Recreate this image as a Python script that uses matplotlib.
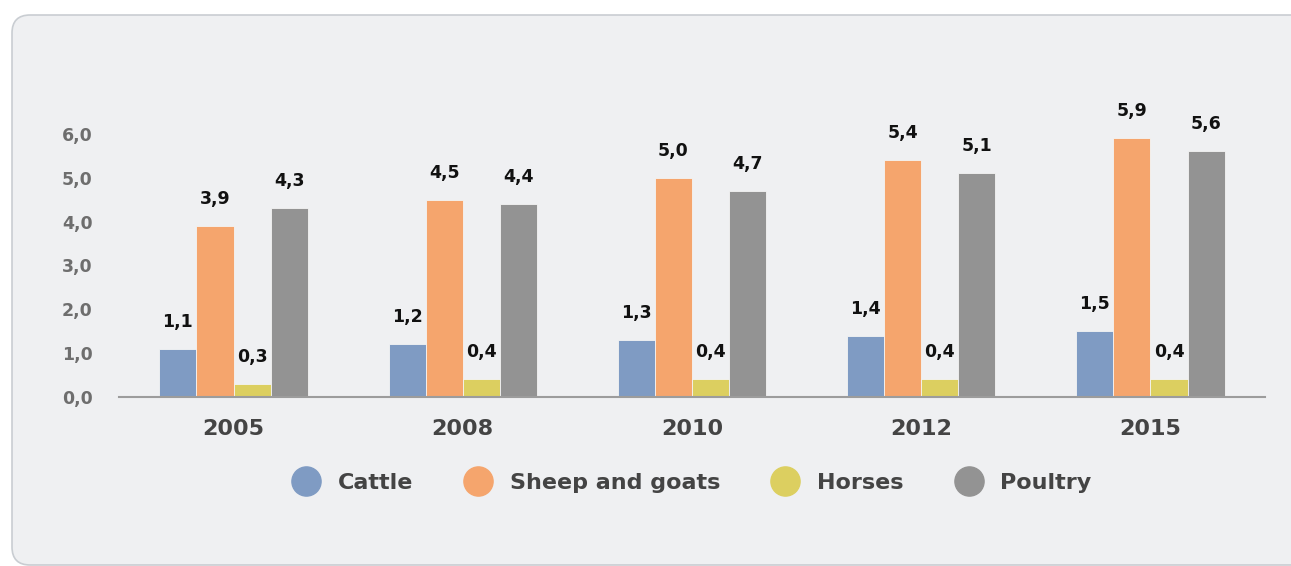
import matplotlib
matplotlib.use("Agg")
import matplotlib.pyplot as plt
from matplotlib.patches import FancyBboxPatch
from matplotlib.lines import Line2D
import numpy as np

years = ["2005", "2008", "2010", "2012", "2015"]
series = ["Cattle", "Sheep and goats", "Horses", "Poultry"]
cattle = [1.1, 1.2, 1.3, 1.4, 1.5]
sheep_goats = [3.9, 4.5, 5.0, 5.4, 5.9]
horses = [0.3, 0.4, 0.4, 0.4, 0.4]
poultry = [4.3, 4.4, 4.7, 5.1, 5.6]
yticks = [0.0, 1.0, 2.0, 3.0, 4.0, 5.0, 6.0]

colors = ["#7f9bc3", "#f5a56d", "#dccf60", "#939393"]
FONT = ["DejaVu Sans"]
plt.rcParams["font.family"] = FONT

W, H = 1291, 566
fig = plt.figure(figsize=(W / 100, H / 100), dpi=100, facecolor="white")

panel = FancyBboxPatch((12 / W, 1 / H), (W + 40) / W, (H - 15 - 1) / H,
                       boxstyle="round,pad=0,rounding_size=0.014",
                       transform=fig.transFigure, facecolor="#eff0f2",
                       edgecolor="#c9cdd2", linewidth=1.2, zorder=-10,
                       mutation_aspect=W / H)
fig.patches.append(panel)

ax = fig.add_axes([119 / W, 169 / H, (1265 - 119) / W, (397 - 90) / H])
ax.set_facecolor("none")
ax.set_zorder(1)

data = [cattle, sheep_goats, horses, poultry]
x = np.arange(len(years))
bw = 0.162
for i, (vals, c) in enumerate(zip(data, colors)):
    offs = (i - 1.5) * bw
    ax.bar(x + offs, vals, width=bw, color=c, edgecolor="#f4f4f4",
           linewidth=0.6, zorder=2)
    for xi, v in zip(x + offs, vals):
        ax.annotate(f"{v:.1f}".replace(".", ","), (xi, v), xytext=(0, 13),
                    textcoords="offset points", ha="center", va="bottom",
                    fontsize=12.5, fontweight="bold", color="#111111",
                    annotation_clip=False)

ax.set_xlim(-0.5, len(years) - 0.5)
ax.set_ylim(0, 7)
ax.set_yticks(yticks)
ax.set_yticklabels([f"{t:.1f}".replace(".", ",") for t in yticks],
                   fontsize=12.5, fontweight="bold", color="#6e6e6e")
ax.set_xticks(x)
ax.set_xticklabels(years, fontsize=16, fontweight="bold", color="#444444")
ax.tick_params(axis="y", length=0, pad=19)
ax.tick_params(axis="x", length=0, pad=16)
for s in ["top", "right", "left"]:
    ax.spines[s].set_visible(False)
ax.spines["bottom"].set_color("#9c9c9c")
ax.spines["bottom"].set_linewidth(1.5)

handles = [Line2D([], [], marker="o", linestyle="none", markersize=21,
                  markerfacecolor=c, markeredgecolor=c) for c in colors]
leg = fig.legend(handles, series, loc="center", bbox_to_anchor=(0.5326, 1 - 483 / H),
                 ncol=4, frameon=False, handletextpad=0.4, columnspacing=1.95,
                 prop={"size": 16, "weight": "bold", "family": FONT})
for t in leg.get_texts():
    t.set_color("#444444")

fig.savefig("out.png", dpi=100, facecolor="white")
